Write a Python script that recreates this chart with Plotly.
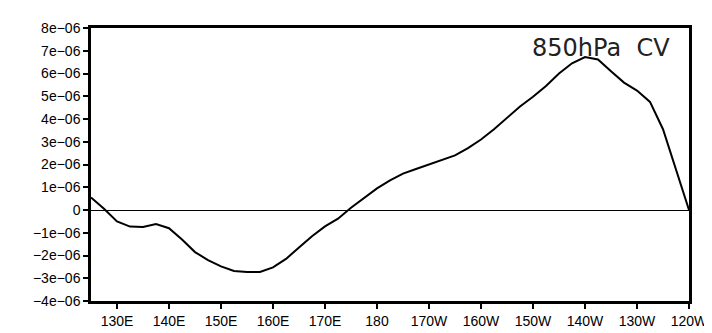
import plotly.graph_objects as go

# longitude (degrees east, 0-360)
lon = [125, 127.5, 130, 132.5, 135, 137.5, 140, 142.5, 145, 147.5, 150, 152.5,
       155, 157.5, 160, 162.5, 165, 167.5, 170, 172.5, 175, 177.5, 180, 182.5,
       185, 187.5, 190, 192.5, 195, 197.5, 200, 202.5, 205, 207.5, 210, 212.5,
       215, 217.5, 220, 222.5, 225, 227.5, 230, 232.5, 235, 237.5, 240]
# 850hPa CV in units of 1e-06
cv_e6 = [0.55, 0.05, -0.50, -0.73, -0.75, -0.62, -0.80, -1.30, -1.85, -2.20, -2.48, -2.68,
         -2.72, -2.72, -2.52, -2.15, -1.65, -1.15, -0.72, -0.38, 0.10, 0.51, 0.95, 1.30,
         1.60, 1.80, 2.00, 2.18, 2.40, 2.72, 3.10, 3.55, 4.05, 4.55, 4.98, 5.45,
         6.00, 6.45, 6.72, 6.62, 6.10, 5.60, 5.25, 4.75, 3.55, 1.80, 0.0]

x_tickvals = [130, 140, 150, 160, 170, 180, 190, 200, 210, 220, 230, 240]
x_ticktext = ["130E", "140E", "150E", "160E", "170E", "180", "170W", "160W",
              "150W", "140W", "130W", "120W"]
y_tickvals_e6 = [-4, -3, -2, -1, 0, 1, 2, 3, 4, 5, 6, 7, 8]
y_ticktext = ["−4e−06", "−3e−06", "−2e−06", "−1e−06", "0", "1e−06", "2e−06",
              "3e−06", "4e−06", "5e−06", "6e−06", "7e−06", "8e−06"]
title_text = "850hPa  CV"

cv = [v * 1e-6 for v in cv_e6]
y_tickvals = [v * 1e-6 for v in y_tickvals_e6]

fig = go.Figure()
fig.add_trace(go.Scatter(x=lon, y=cv, mode="lines",
                         line=dict(color="black", width=2), showlegend=False))

fig.update_layout(
    width=712, height=333,
    margin=dict(l=83, r=22, t=12, b=28),
    paper_bgcolor="white", plot_bgcolor="white",
    font=dict(family="Liberation Sans", size=14, color="black"),
    xaxis=dict(range=[125, 240], tickvals=x_tickvals, ticktext=x_ticktext,
               showgrid=False, zeroline=False, showline=True, linecolor="black",
               linewidth=2.5, mirror=True, ticks="outside", ticklen=5, tickwidth=1.5,
               tickcolor="black", tickfont=dict(size=14)),
    yaxis=dict(range=[-4e-6, 8e-6], tickvals=y_tickvals, ticktext=y_ticktext,
               showgrid=False, zeroline=True, zerolinecolor="black", zerolinewidth=1,
               showline=True, linecolor="black", linewidth=2.5, mirror=True,
               ticks="outside", ticklen=5, tickwidth=1.5, tickcolor="black",
               tickfont=dict(size=14)),
    annotations=[dict(text=title_text, xref="paper", yref="paper", x=0.853, y=0.928,
                      xanchor="center", yanchor="middle", showarrow=False,
                      font=dict(family="DejaVu Sans", size=24, color="#222222"))],
)

fig.write_html("out.html")
